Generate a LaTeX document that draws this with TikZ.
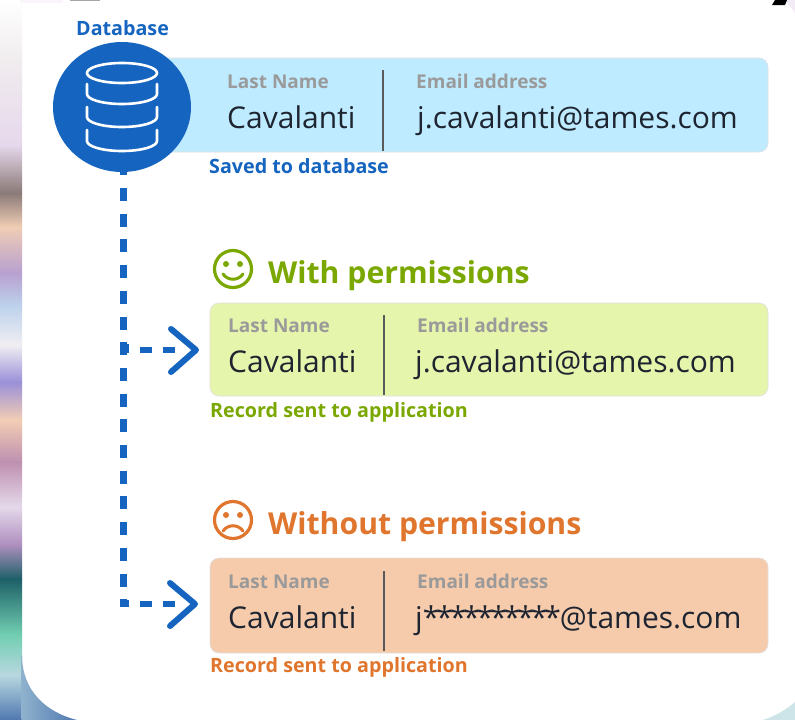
\documentclass[tikz,border=0pt]{standalone}
\usepackage{fontspec}
\setmainfont{Open Sans}
\usetikzlibrary{shapes.geometric}
\definecolor{dbblue}{HTML}{1565C0}
\definecolor{fieldgrey}{HTML}{9A9A9A}
\definecolor{inkdark}{HTML}{1E2430}
\definecolor{rulegrey}{HTML}{5A5A5A}
\definecolor{boxblue}{HTML}{BEEBFF}
\definecolor{boxgreen}{HTML}{E6F5AC}
\definecolor{boxorange}{HTML}{F6CBAB}
\definecolor{goodgreen}{HTML}{7BA800}
\definecolor{badorange}{HTML}{E0752D}
\definecolor{s0}{HTML}{FFFFFF}
\definecolor{s1}{HTML}{F0ECEE}
\definecolor{s2}{HTML}{E6D8EC}
\definecolor{s3}{HTML}{8A7A78}
\definecolor{s4}{HTML}{EFCDB4}
\definecolor{s5}{HTML}{B8A0D0}
\definecolor{s6}{HTML}{BDD2EC}
\definecolor{s7}{HTML}{F0EEF2}
\definecolor{s8}{HTML}{9A90D8}
\definecolor{s9}{HTML}{F2CDB4}
\definecolor{s10}{HTML}{BE90B0}
\definecolor{s11}{HTML}{E4D8EA}
\definecolor{s12}{HTML}{B090C0}
\definecolor{s13}{HTML}{1E6068}
\definecolor{s14}{HTML}{70CDB0}
\definecolor{s15}{HTML}{B8D8E0}
\definecolor{s16}{HTML}{5078B0}
\newcommand{\starrun}{{*\kern-3.05pt*\kern-3.05pt*\kern-3.05pt*\kern-3.05pt*\kern-3.05pt*\kern-3.05pt*\kern-3.05pt*\kern-3.05pt*\kern-3.05pt*\kern-1pt}}
\tikzset{
  x=1pt,y=-1pt,
  recbox/.style={rounded corners=9pt,draw=white!88!black,line width=.6pt},
  fieldname/.style={anchor=base west,inner sep=0pt,font=\fontsize{19}{22}\selectfont\bfseries,text=fieldgrey},
  fieldval/.style={anchor=base west,inner sep=0pt,font=\fontsize{30}{36}\selectfont,text=inkdark},
  divider/.style={draw=rulegrey,line width=1.1pt},
  caption/.style={anchor=base west,inner sep=0pt,font=\fontsize{19.7}{23}\selectfont\bfseries},
  heading/.style={anchor=base west,inner sep=0pt,font=\fontsize{30.2}{34}\selectfont\bfseries},
  facering/.style={line width=3.2pt},
  dashline/.style={draw=dbblue,line width=7pt,dash pattern=on 13pt off 12.7pt},
  hdash/.style={draw=dbblue,line width=6pt,dash pattern=on 12pt off 11pt},
  chevron/.style={draw=dbblue,line width=6pt,line cap=round,line join=round},
  dbline/.style={draw=white,line width=2.6pt,line cap=round},
}
\begin{document}
\begin{tikzpicture}
\useasboundingbox (0,0) rectangle (795,720);
% backdrop
\fill[white] (0,0) rectangle (795,720);
\foreach \ya/\yb/\ca/\cb in {0/62/s0/s1,62/145/s1/s2,145/193/s2/s3,193/227/s3/s4,227/273/s4/s5,273/306/s5/s6,306/345/s6/s7,345/382/s7/s8,382/420/s8/s9,420/462/s9/s10,462/507/s10/s11,507/544/s11/s12,544/579/s12/s13,579/634/s13/s14,634/675/s14/s15,675/720/s15/s16}{
  \shade[top color=\ca,bottom color=\cb] (0,\ya) rectangle (22,\yb);
}
\shade[left color=s15!60!s16,right color=s16] (21.5,655) -- (21.5,720) -- (77,720) .. controls (45,712) and (22,690) .. (22,655) -- cycle;
\fill[s15!70!white] (795,702) -- (795,720) -- (763,720) .. controls (775,716) and (786,710) .. (795,702) -- cycle;
\fill[s2!50!white] (785,0) -- (795,0) -- (795,13) -- cycle;
\fill[black] (772,5) -- (785,5) -- (787,0) -- (775,0) -- cycle;
\fill[black!35] (70,0) rectangle (100,1.2);
\fill[s2!25!white] (20,0) rectangle (63,3);
% record boxes
\fill[boxblue,recbox] (150,58) rectangle (768,152);
\fill[boxgreen,recbox] (210,303) rectangle (768,396);
\fill[boxorange,recbox] (210,558) rectangle (768,653);
% connectors
\coordinate (trunkTop) at (123,162.3);
\coordinate (trunkBot) at (123,607);
\coordinate (turnA) at (119.5,348);
\coordinate (nubA) at (129,348);
\coordinate (turnB) at (119.5,603.5);
\coordinate (nubB) at (129,603.5);
\coordinate (startA) at (140,350);
\coordinate (endA) at (178,350);
\coordinate (startB) at (140,604);
\coordinate (endB) at (177,604);
\draw[dashline] (trunkTop) -- (trunkBot);
\draw[draw=dbblue,line width=9pt] (turnA) -- (nubA);
\draw[draw=dbblue,line width=7pt] (turnB) -- (nubB);
\draw[hdash] (startA) -- (endA);
\draw[hdash] (startB) -- (endB);
\draw[chevron] (171,329) -- (196,350) -- (171,372);
\draw[chevron] (170,583) -- (195,604) -- (170,626);
% database
\node[ellipse,fill=dbblue,minimum width=138pt,minimum height=130pt,inner sep=0pt] (db) at (122,107) {};
\draw[dbline] (122,73) ellipse[x radius=35pt,y radius=10pt];
\draw[dbline] (87,84) -- (87,94) arc[start angle=180,end angle=0,x radius=35pt,y radius=-10pt] -- (157,84);
\draw[dbline] (87,107) -- (87,117) arc[start angle=180,end angle=0,x radius=35pt,y radius=-10pt] -- (157,107);
\draw[dbline] (87,130) -- (87,141) arc[start angle=180,end angle=0,x radius=35pt,y radius=-10pt] -- (157,130);
\node[caption,text=dbblue] (dbl) at (76,35.5) {Database};
% row 1
\node[fieldname] (n1) at (227,88.5) {Last Name};
\node[fieldname] (e1) at (416,88.5) {Email address};
\node[fieldval] (v1) at (227,128.5) {Cavalanti};
\node[fieldval] (m1) at (417,128.5) {j.cavalanti@tames.com};
\draw[divider] (383,70) -- (383,151);
\node[caption,text=dbblue] (c1) at (209,173.5) {Saved to database};
% row 2
\draw[facering,draw=goodgreen] (233,269) circle[radius=18.5pt];
\fill[goodgreen] (226,264) circle[radius=3pt] (240,264) circle[radius=3pt];
\draw[goodgreen,line width=3pt,line cap=round] (223,274) .. controls (228,281) and (238,281) .. (243,274);
\node[heading,text=goodgreen] (h2) at (268,283) {With permissions};
\node[fieldname] (n2) at (228,332.5) {Last Name};
\node[fieldname] (e2) at (417,332.5) {Email address};
\node[fieldval] (v2) at (228,372.5) {Cavalanti};
\node[fieldval] (m2) at (415,372.5) {j.cavalanti@tames.com};
\draw[divider] (384,315) -- (384,395);
\node[caption,text=goodgreen] (c2) at (210,417.5) {Record sent to application};
% row 3
\draw[facering,draw=badorange] (233,520) circle[radius=18.5pt];
\fill[badorange] (226,515) circle[radius=3pt] (240,515) circle[radius=3pt];
\draw[badorange,line width=3pt,line cap=round] (223,531) .. controls (228,524) and (238,524) .. (243,531);
\node[heading,text=badorange] (h3) at (268,534) {Without permissions};
\node[fieldname] (n3) at (228,588.5) {Last Name};
\node[fieldname] (e3) at (417,588.5) {Email address};
\node[fieldval] (v3) at (228,628.5) {Cavalanti};
\node[fieldval] (m3) at (415,628.5) {j\starrun @tames.com};
\draw[divider] (384,571) -- (384,651);
\node[caption,text=badorange] (c3) at (210,672.5) {Record sent to application};
\end{tikzpicture}
\end{document}
